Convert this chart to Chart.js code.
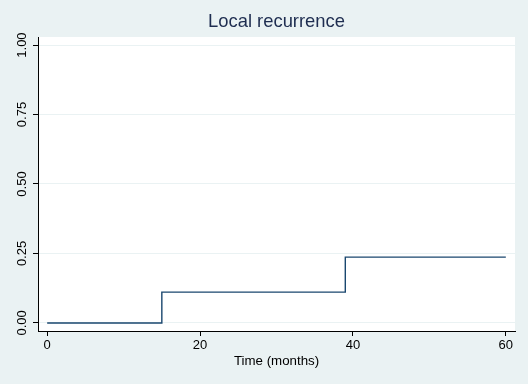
<!DOCTYPE html>
<html>
<head>
<meta charset="utf-8">
<script src="https://cdn.jsdelivr.net/npm/chart.js@4"></script>
<style>
  html, body { margin: 0; padding: 0; background: #eaf2f3; }
  #wrap { width: 528px; height: 384px; }
</style>
</head>
<body>
<div id="wrap"><canvas id="km-chart"></canvas></div>
<script>
// failure curve steps (time in months, cumulative failure)
const times = [0, 15, 39, 60];
const failure = [0, 0.111, 0.237, 0.237];
const xTicks = [0, 20, 40, 60];
const yTicks = [0, 0.25, 0.5, 0.75, 1];

const points = times.map((t, i) => ({ x: t, y: failure[i] }));

// white plot region + title centred over it
const plotBg = {
    id: "plotBg",
    beforeDraw(chart) {
        const { ctx, chartArea } = chart;
        ctx.save();
        ctx.fillStyle = "#ffffff";
        ctx.fillRect(chartArea.left, chartArea.top, chartArea.right - chartArea.left, chartArea.bottom - chartArea.top);
        ctx.restore();
    },
    afterDraw(chart) {
        const { ctx, chartArea } = chart;
        ctx.save();
        ctx.fillStyle = "#1e2d50";
        ctx.font = "18.4px 'Liberation Sans', Arial, sans-serif";
        ctx.textAlign = "center";
        ctx.textBaseline = "middle";
        ctx.fillText("Local recurrence", (chartArea.left + chartArea.right) / 2, 22);
        ctx.restore();
    },
};

const ctx = document.getElementById("km-chart").getContext("2d");
const myChart = new Chart(ctx, {
    type: "line",
    data: {
        datasets: [
            {
                data: points,
                stepped: true,
                borderColor: "#1a476f",
                borderWidth: 1.4,
                pointRadius: 0,
                fill: false,
            },
        ],
    },
    options: {
        responsive: true,
        maintainAspectRatio: false,
        animation: false,
        layout: {
            padding: { top: 37, right: 13, left: 0, bottom: 13 },
        },
        scales: {
            x: {
                type: "linear",
                min: -1.2,
                max: 61.2,
                afterBuildTicks: (scale) => {
                    scale.ticks = xTicks.map((v) => ({ value: v }));
                },
                afterFit: (scale) => {
                    scale.height = 40;
                },
                border: { color: "#000000", width: 1 },
                grid: {
                    drawOnChartArea: false,
                    tickLength: 5,
                    tickColor: "#000000",
                },
                ticks: {
                    color: "#000000",
                    padding: 2,
                    font: { family: "'Liberation Sans', Arial", size: 13 },
                },
                title: {
                    display: true,
                    text: "Time (months)",
                    color: "#000000",
                    padding: { top: 0, bottom: 2 },
                    font: { family: "'Liberation Sans', Arial", size: 13.3 },
                },
            },
            y: {
                type: "linear",
                min: -0.029,
                max: 1.029,
                afterBuildTicks: (scale) => {
                    scale.ticks = yTicks.map((v) => ({ value: v }));
                },
                afterFit: (scale) => {
                    scale.width = 38;
                },
                border: { color: "#000000", width: 1 },
                grid: {
                    color: "#eaf2f3",
                    tickLength: 5,
                    tickColor: "#000000",
                },
                ticks: {
                    color: "#000000",
                    padding: -2,
                    minRotation: 90,
                    maxRotation: 90,
                    crossAlign: "center",
                    font: { family: "'Liberation Sans', Arial", size: 13 },
                    callback: (v) => v.toFixed(2),
                },
            },
        },
        plugins: {
            legend: { display: false },
            tooltip: { enabled: false },
        },
    },
    plugins: [plotBg],
});
</script>
</body>
</html>
